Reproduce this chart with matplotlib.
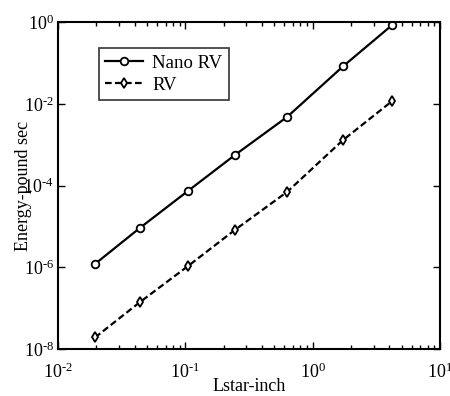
import numpy as np
import matplotlib.pyplot as plt
from matplotlib.ticker import LogLocator, NullLocator, FixedLocator, FuncFormatter

plt.rcParams['font.family'] = ['Liberation Serif', 'DejaVu Serif']
plt.rcParams['mathtext.fontset'] = 'custom'
plt.rcParams['mathtext.rm'] = 'Liberation Serif'
plt.rcParams['mathtext.it'] = 'Liberation Serif:italic'

# Lstar (inch) against energy (pound sec)
lstar = [0.0195, 0.044, 0.105, 0.245, 0.63, 1.73, 4.2]
nano_rv = [1.2e-6, 9.2e-6, 7.4e-5, 5.6e-4, 4.8e-3, 8.3e-2, 0.85]
rv = [1.9e-8, 1.4e-7, 1.07e-6, 8.2e-6, 7.0e-5, 1.3e-3, 1.17e-2]


def pow10(v, pos):
    e = int(round(np.log10(v)))
    return r'$10^{\text{%d}}$' % e


fig = plt.figure(figsize=(4.5, 3.96), dpi=100)
ax = fig.add_axes([0.129, 0.119, 0.849, 0.825])

ax.loglog(lstar, nano_rv, '-o', color='black', lw=1.6, ms=5.5,
          mfc='white', mec='black', mew=1.3, label='Nano RV')
ax.loglog(lstar, rv, '--d', color='black', lw=1.6, ms=5.5,
          mfc='white', mec='black', mew=1.3, label='RV', dashes=(3, 1.5))

ax.set_xlim(1e-2, 1e1)
ax.set_ylim(1e-8, 1e0)
ax.yaxis.set_major_locator(FixedLocator([1e-8, 1e-6, 1e-4, 1e-2, 1e0]))
ax.yaxis.set_minor_locator(NullLocator())
ax.xaxis.set_minor_locator(LogLocator(base=10, subs=np.arange(2, 10)))
ax.xaxis.set_major_formatter(FuncFormatter(pow10))
ax.yaxis.set_major_formatter(FuncFormatter(pow10))

ax.tick_params(which='both', direction='in', top=True, right=True,
               labelsize=13, width=1)
ax.tick_params(which='major', length=5)
ax.tick_params(which='minor', length=3)
ax.tick_params(axis='x', pad=10)
ax.tick_params(axis='y', pad=3)
for s in ax.spines.values():
    s.set_linewidth(1.5)

ax.set_xlabel('Lstar-inch', fontsize=13, labelpad=-3)
ax.set_ylabel('Energy-pound sec', fontsize=13, labelpad=-6)

leg = ax.legend(loc='upper left', bbox_to_anchor=(0.107, 0.92), fontsize=13.5,
                frameon=True, fancybox=False, edgecolor='black',
                handlelength=2.0, borderpad=0.35, labelspacing=0.25,
                handletextpad=0.5, borderaxespad=0)
leg.get_frame().set_linewidth(1.2)

fig.savefig('out.png', dpi=100)
